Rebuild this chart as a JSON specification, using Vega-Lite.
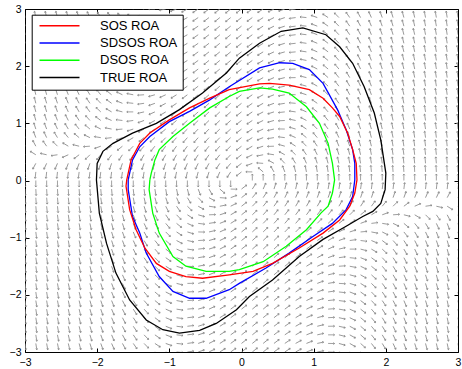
{
"$schema":"https://vega.github.io/schema/vega-lite/v6.json",
"width":433,"height":343,
"autosize":{"type":"none"},
"padding":{"left":25,"top":9,"right":4,"bottom":17},
"config":{
 "view":{"stroke":"#000","strokeWidth":1},
 "font":"Liberation Sans",
 "axis":{"grid":false,"domain":false,"tickColor":"#000","tickSize":-4,"tickWidth":1,"labelFont":"Liberation Sans","labelFontSize":10.5,"labelColor":"#000","labelFlush":false,"title":null},
 "legend":{"orient":"none","legendX":6.7,"legendY":5.7,"padding":4.5,"strokeColor":"#000","strokeWidth":1,"fillColor":"#fff","symbolType":"M-10,0H10","symbolSize":16,"symbolStrokeWidth":1.5,"symbolOffset":16.8,"labelOffset":34,"labelFontSize":13,"labelFont":"Liberation Sans","labelColor":"#000","rowPadding":3.3,"title":null}
},
"resolve":{"axis":{"x":"independent","y":"independent"}},
"layer":[
 {
  "data":{"values":[
{"x":-3,"y":3,"a":260},{"x":-2.85,"y":3,"a":258},{"x":-2.7,"y":3,"a":257},{"x":-2.55,"y":3,"a":255},{"x":-2.4,"y":3,"a":252},{"x":-2.25,"y":3,"a":249},{"x":-2.1,"y":3,"a":245},{"x":-1.95,"y":3,"a":240},{"x":-1.8,"y":3,"a":232},{"x":-1.65,"y":3,"a":223},{"x":-1.5,"y":3,"a":211},{"x":-1.35,"y":3,"a":196},{"x":-1.2,"y":3,"a":182},{"x":-1.05,"y":3,"a":169},{"x":-0.9,"y":3,"a":159},{"x":-0.75,"y":3,"a":151},{"x":-0.6,"y":3,"a":146},{"x":-0.45,"y":3,"a":143},{"x":-0.3,"y":3,"a":141},{"x":-0.15,"y":3,"a":141},{"x":0,"y":3,"a":142},{"x":0.15,"y":3,"a":144},{"x":0.3,"y":3,"a":147},{"x":0.45,"y":3,"a":153},{"x":0.6,"y":3,"a":161},{"x":0.75,"y":3,"a":172},{"x":0.9,"y":3,"a":185},{"x":1.05,"y":3,"a":200},{"x":1.2,"y":3,"a":214},{"x":1.35,"y":3,"a":225},{"x":1.5,"y":3,"a":234},{"x":1.65,"y":3,"a":241},{"x":1.8,"y":3,"a":246},{"x":1.95,"y":3,"a":250},{"x":2.1,"y":3,"a":253},{"x":2.25,"y":3,"a":255},{"x":2.4,"y":3,"a":257},{"x":2.55,"y":3,"a":259},{"x":2.7,"y":3,"a":260},{"x":2.85,"y":3,"a":261},{"x":3,"y":3,"a":262},
{"x":-3,"y":2.85,"a":260},{"x":-2.85,"y":2.85,"a":258},{"x":-2.7,"y":2.85,"a":257},{"x":-2.55,"y":2.85,"a":255},{"x":-2.4,"y":2.85,"a":252},{"x":-2.25,"y":2.85,"a":249},{"x":-2.1,"y":2.85,"a":245},{"x":-1.95,"y":2.85,"a":239},{"x":-1.8,"y":2.85,"a":232},{"x":-1.65,"y":2.85,"a":222},{"x":-1.5,"y":2.85,"a":210},{"x":-1.35,"y":2.85,"a":196},{"x":-1.2,"y":2.85,"a":181},{"x":-1.05,"y":2.85,"a":168},{"x":-0.9,"y":2.85,"a":158},{"x":-0.75,"y":2.85,"a":151},{"x":-0.6,"y":2.85,"a":146},{"x":-0.45,"y":2.85,"a":143},{"x":-0.3,"y":2.85,"a":141},{"x":-0.15,"y":2.85,"a":141},{"x":0,"y":2.85,"a":142},{"x":0.15,"y":2.85,"a":144},{"x":0.3,"y":2.85,"a":147},{"x":0.45,"y":2.85,"a":153},{"x":0.6,"y":2.85,"a":161},{"x":0.75,"y":2.85,"a":172},{"x":0.9,"y":2.85,"a":186},{"x":1.05,"y":2.85,"a":200},{"x":1.2,"y":2.85,"a":214},{"x":1.35,"y":2.85,"a":226},{"x":1.5,"y":2.85,"a":235},{"x":1.65,"y":2.85,"a":241},{"x":1.8,"y":2.85,"a":246},{"x":1.95,"y":2.85,"a":250},{"x":2.1,"y":2.85,"a":253},{"x":2.25,"y":2.85,"a":255},{"x":2.4,"y":2.85,"a":257},{"x":2.55,"y":2.85,"a":259},{"x":2.7,"y":2.85,"a":260},{"x":2.85,"y":2.85,"a":261},{"x":3,"y":2.85,"a":262},
{"x":-3,"y":2.7,"a":260},{"x":-2.85,"y":2.7,"a":258},{"x":-2.7,"y":2.7,"a":257},{"x":-2.55,"y":2.7,"a":255},{"x":-2.4,"y":2.7,"a":252},{"x":-2.25,"y":2.7,"a":249},{"x":-2.1,"y":2.7,"a":244},{"x":-1.95,"y":2.7,"a":239},{"x":-1.8,"y":2.7,"a":231},{"x":-1.65,"y":2.7,"a":221},{"x":-1.5,"y":2.7,"a":209},{"x":-1.35,"y":2.7,"a":194},{"x":-1.2,"y":2.7,"a":180},{"x":-1.05,"y":2.7,"a":167},{"x":-0.9,"y":2.7,"a":158},{"x":-0.75,"y":2.7,"a":150},{"x":-0.6,"y":2.7,"a":146},{"x":-0.45,"y":2.7,"a":143},{"x":-0.3,"y":2.7,"a":141},{"x":-0.15,"y":2.7,"a":141},{"x":0,"y":2.7,"a":142},{"x":0.15,"y":2.7,"a":144},{"x":0.3,"y":2.7,"a":148},{"x":0.45,"y":2.7,"a":153},{"x":0.6,"y":2.7,"a":162},{"x":0.75,"y":2.7,"a":173},{"x":0.9,"y":2.7,"a":186},{"x":1.05,"y":2.7,"a":201},{"x":1.2,"y":2.7,"a":215},{"x":1.35,"y":2.7,"a":226},{"x":1.5,"y":2.7,"a":235},{"x":1.65,"y":2.7,"a":241},{"x":1.8,"y":2.7,"a":247},{"x":1.95,"y":2.7,"a":250},{"x":2.1,"y":2.7,"a":253},{"x":2.25,"y":2.7,"a":255},{"x":2.4,"y":2.7,"a":257},{"x":2.55,"y":2.7,"a":259},{"x":2.7,"y":2.7,"a":260},{"x":2.85,"y":2.7,"a":261},{"x":3,"y":2.7,"a":262},
{"x":-3,"y":2.55,"a":260},{"x":-2.85,"y":2.55,"a":258},{"x":-2.7,"y":2.55,"a":256},{"x":-2.55,"y":2.55,"a":254},{"x":-2.4,"y":2.55,"a":252},{"x":-2.25,"y":2.55,"a":248},{"x":-2.1,"y":2.55,"a":244},{"x":-1.95,"y":2.55,"a":238},{"x":-1.8,"y":2.55,"a":230},{"x":-1.65,"y":2.55,"a":220},{"x":-1.5,"y":2.55,"a":208},{"x":-1.35,"y":2.55,"a":193},{"x":-1.2,"y":2.55,"a":179},{"x":-1.05,"y":2.55,"a":166},{"x":-0.9,"y":2.55,"a":157},{"x":-0.75,"y":2.55,"a":150},{"x":-0.6,"y":2.55,"a":145},{"x":-0.45,"y":2.55,"a":143},{"x":-0.3,"y":2.55,"a":141},{"x":-0.15,"y":2.55,"a":141},{"x":0,"y":2.55,"a":142},{"x":0.15,"y":2.55,"a":144},{"x":0.3,"y":2.55,"a":148},{"x":0.45,"y":2.55,"a":154},{"x":0.6,"y":2.55,"a":162},{"x":0.75,"y":2.55,"a":173},{"x":0.9,"y":2.55,"a":187},{"x":1.05,"y":2.55,"a":202},{"x":1.2,"y":2.55,"a":216},{"x":1.35,"y":2.55,"a":227},{"x":1.5,"y":2.55,"a":235},{"x":1.65,"y":2.55,"a":242},{"x":1.8,"y":2.55,"a":247},{"x":1.95,"y":2.55,"a":250},{"x":2.1,"y":2.55,"a":253},{"x":2.25,"y":2.55,"a":256},{"x":2.4,"y":2.55,"a":257},{"x":2.55,"y":2.55,"a":259},{"x":2.7,"y":2.55,"a":260},{"x":2.85,"y":2.55,"a":261},{"x":3,"y":2.55,"a":262},
{"x":-3,"y":2.4,"a":259},{"x":-2.85,"y":2.4,"a":258},{"x":-2.7,"y":2.4,"a":256},{"x":-2.55,"y":2.4,"a":254},{"x":-2.4,"y":2.4,"a":251},{"x":-2.25,"y":2.4,"a":248},{"x":-2.1,"y":2.4,"a":244},{"x":-1.95,"y":2.4,"a":238},{"x":-1.8,"y":2.4,"a":230},{"x":-1.65,"y":2.4,"a":219},{"x":-1.5,"y":2.4,"a":206},{"x":-1.35,"y":2.4,"a":192},{"x":-1.2,"y":2.4,"a":177},{"x":-1.05,"y":2.4,"a":165},{"x":-0.9,"y":2.4,"a":156},{"x":-0.75,"y":2.4,"a":149},{"x":-0.6,"y":2.4,"a":145},{"x":-0.45,"y":2.4,"a":142},{"x":-0.3,"y":2.4,"a":141},{"x":-0.15,"y":2.4,"a":141},{"x":0,"y":2.4,"a":142},{"x":0.15,"y":2.4,"a":144},{"x":0.3,"y":2.4,"a":148},{"x":0.45,"y":2.4,"a":154},{"x":0.6,"y":2.4,"a":163},{"x":0.75,"y":2.4,"a":174},{"x":0.9,"y":2.4,"a":188},{"x":1.05,"y":2.4,"a":203},{"x":1.2,"y":2.4,"a":217},{"x":1.35,"y":2.4,"a":227},{"x":1.5,"y":2.4,"a":236},{"x":1.65,"y":2.4,"a":242},{"x":1.8,"y":2.4,"a":247},{"x":1.95,"y":2.4,"a":251},{"x":2.1,"y":2.4,"a":253},{"x":2.25,"y":2.4,"a":256},{"x":2.4,"y":2.4,"a":258},{"x":2.55,"y":2.4,"a":259},{"x":2.7,"y":2.4,"a":260},{"x":2.85,"y":2.4,"a":261},{"x":3,"y":2.4,"a":262},
{"x":-3,"y":2.25,"a":259},{"x":-2.85,"y":2.25,"a":258},{"x":-2.7,"y":2.25,"a":256},{"x":-2.55,"y":2.25,"a":254},{"x":-2.4,"y":2.25,"a":251},{"x":-2.25,"y":2.25,"a":248},{"x":-2.1,"y":2.25,"a":243},{"x":-1.95,"y":2.25,"a":237},{"x":-1.8,"y":2.25,"a":229},{"x":-1.65,"y":2.25,"a":218},{"x":-1.5,"y":2.25,"a":205},{"x":-1.35,"y":2.25,"a":190},{"x":-1.2,"y":2.25,"a":176},{"x":-1.05,"y":2.25,"a":164},{"x":-0.9,"y":2.25,"a":155},{"x":-0.75,"y":2.25,"a":149},{"x":-0.6,"y":2.25,"a":144},{"x":-0.45,"y":2.25,"a":142},{"x":-0.3,"y":2.25,"a":141},{"x":-0.15,"y":2.25,"a":141},{"x":0,"y":2.25,"a":142},{"x":0.15,"y":2.25,"a":144},{"x":0.3,"y":2.25,"a":148},{"x":0.45,"y":2.25,"a":155},{"x":0.6,"y":2.25,"a":164},{"x":0.75,"y":2.25,"a":175},{"x":0.9,"y":2.25,"a":189},{"x":1.05,"y":2.25,"a":204},{"x":1.2,"y":2.25,"a":217},{"x":1.35,"y":2.25,"a":228},{"x":1.5,"y":2.25,"a":237},{"x":1.65,"y":2.25,"a":243},{"x":1.8,"y":2.25,"a":247},{"x":1.95,"y":2.25,"a":251},{"x":2.1,"y":2.25,"a":254},{"x":2.25,"y":2.25,"a":256},{"x":2.4,"y":2.25,"a":258},{"x":2.55,"y":2.25,"a":259},{"x":2.7,"y":2.25,"a":260},{"x":2.85,"y":2.25,"a":261},{"x":3,"y":2.25,"a":262},
{"x":-3,"y":2.1,"a":259},{"x":-2.85,"y":2.1,"a":258},{"x":-2.7,"y":2.1,"a":256},{"x":-2.55,"y":2.1,"a":253},{"x":-2.4,"y":2.1,"a":251},{"x":-2.25,"y":2.1,"a":247},{"x":-2.1,"y":2.1,"a":242},{"x":-1.95,"y":2.1,"a":236},{"x":-1.8,"y":2.1,"a":227},{"x":-1.65,"y":2.1,"a":217},{"x":-1.5,"y":2.1,"a":203},{"x":-1.35,"y":2.1,"a":188},{"x":-1.2,"y":2.1,"a":174},{"x":-1.05,"y":2.1,"a":162},{"x":-0.9,"y":2.1,"a":154},{"x":-0.75,"y":2.1,"a":148},{"x":-0.6,"y":2.1,"a":144},{"x":-0.45,"y":2.1,"a":141},{"x":-0.3,"y":2.1,"a":140},{"x":-0.15,"y":2.1,"a":140},{"x":0,"y":2.1,"a":142},{"x":0.15,"y":2.1,"a":144},{"x":0.3,"y":2.1,"a":149},{"x":0.45,"y":2.1,"a":155},{"x":0.6,"y":2.1,"a":164},{"x":0.75,"y":2.1,"a":176},{"x":0.9,"y":2.1,"a":191},{"x":1.05,"y":2.1,"a":205},{"x":1.2,"y":2.1,"a":219},{"x":1.35,"y":2.1,"a":229},{"x":1.5,"y":2.1,"a":237},{"x":1.65,"y":2.1,"a":243},{"x":1.8,"y":2.1,"a":248},{"x":1.95,"y":2.1,"a":251},{"x":2.1,"y":2.1,"a":254},{"x":2.25,"y":2.1,"a":256},{"x":2.4,"y":2.1,"a":258},{"x":2.55,"y":2.1,"a":259},{"x":2.7,"y":2.1,"a":261},{"x":2.85,"y":2.1,"a":261},{"x":3,"y":2.1,"a":262},
{"x":-3,"y":1.95,"a":259},{"x":-2.85,"y":1.95,"a":257},{"x":-2.7,"y":1.95,"a":256},{"x":-2.55,"y":1.95,"a":253},{"x":-2.4,"y":1.95,"a":250},{"x":-2.25,"y":1.95,"a":247},{"x":-2.1,"y":1.95,"a":242},{"x":-1.95,"y":1.95,"a":235},{"x":-1.8,"y":1.95,"a":226},{"x":-1.65,"y":1.95,"a":215},{"x":-1.5,"y":1.95,"a":201},{"x":-1.35,"y":1.95,"a":186},{"x":-1.2,"y":1.95,"a":172},{"x":-1.05,"y":1.95,"a":161},{"x":-0.9,"y":1.95,"a":153},{"x":-0.75,"y":1.95,"a":147},{"x":-0.6,"y":1.95,"a":143},{"x":-0.45,"y":1.95,"a":141},{"x":-0.3,"y":1.95,"a":140},{"x":-0.15,"y":1.95,"a":140},{"x":0,"y":1.95,"a":142},{"x":0.15,"y":1.95,"a":145},{"x":0.3,"y":1.95,"a":149},{"x":0.45,"y":1.95,"a":156},{"x":0.6,"y":1.95,"a":165},{"x":0.75,"y":1.95,"a":177},{"x":0.9,"y":1.95,"a":192},{"x":1.05,"y":1.95,"a":207},{"x":1.2,"y":1.95,"a":220},{"x":1.35,"y":1.95,"a":230},{"x":1.5,"y":1.95,"a":238},{"x":1.65,"y":1.95,"a":244},{"x":1.8,"y":1.95,"a":248},{"x":1.95,"y":1.95,"a":252},{"x":2.1,"y":1.95,"a":254},{"x":2.25,"y":1.95,"a":256},{"x":2.4,"y":1.95,"a":258},{"x":2.55,"y":1.95,"a":260},{"x":2.7,"y":1.95,"a":261},{"x":2.85,"y":1.95,"a":262},{"x":3,"y":1.95,"a":262},
{"x":-3,"y":1.8,"a":259},{"x":-2.85,"y":1.8,"a":257},{"x":-2.7,"y":1.8,"a":255},{"x":-2.55,"y":1.8,"a":253},{"x":-2.4,"y":1.8,"a":250},{"x":-2.25,"y":1.8,"a":246},{"x":-2.1,"y":1.8,"a":241},{"x":-1.95,"y":1.8,"a":234},{"x":-1.8,"y":1.8,"a":224},{"x":-1.65,"y":1.8,"a":212},{"x":-1.5,"y":1.8,"a":198},{"x":-1.35,"y":1.8,"a":183},{"x":-1.2,"y":1.8,"a":170},{"x":-1.05,"y":1.8,"a":159},{"x":-0.9,"y":1.8,"a":151},{"x":-0.75,"y":1.8,"a":146},{"x":-0.6,"y":1.8,"a":143},{"x":-0.45,"y":1.8,"a":140},{"x":-0.3,"y":1.8,"a":140},{"x":-0.15,"y":1.8,"a":140},{"x":0,"y":1.8,"a":142},{"x":0.15,"y":1.8,"a":145},{"x":0.3,"y":1.8,"a":150},{"x":0.45,"y":1.8,"a":156},{"x":0.6,"y":1.8,"a":166},{"x":0.75,"y":1.8,"a":179},{"x":0.9,"y":1.8,"a":194},{"x":1.05,"y":1.8,"a":208},{"x":1.2,"y":1.8,"a":221},{"x":1.35,"y":1.8,"a":231},{"x":1.5,"y":1.8,"a":239},{"x":1.65,"y":1.8,"a":244},{"x":1.8,"y":1.8,"a":249},{"x":1.95,"y":1.8,"a":252},{"x":2.1,"y":1.8,"a":255},{"x":2.25,"y":1.8,"a":257},{"x":2.4,"y":1.8,"a":258},{"x":2.55,"y":1.8,"a":260},{"x":2.7,"y":1.8,"a":261},{"x":2.85,"y":1.8,"a":262},{"x":3,"y":1.8,"a":263},
{"x":-3,"y":1.65,"a":258},{"x":-2.85,"y":1.65,"a":257},{"x":-2.7,"y":1.65,"a":255},{"x":-2.55,"y":1.65,"a":252},{"x":-2.4,"y":1.65,"a":249},{"x":-2.25,"y":1.65,"a":245},{"x":-2.1,"y":1.65,"a":239},{"x":-1.95,"y":1.65,"a":232},{"x":-1.8,"y":1.65,"a":222},{"x":-1.65,"y":1.65,"a":210},{"x":-1.5,"y":1.65,"a":195},{"x":-1.35,"y":1.65,"a":180},{"x":-1.2,"y":1.65,"a":167},{"x":-1.05,"y":1.65,"a":157},{"x":-0.9,"y":1.65,"a":150},{"x":-0.75,"y":1.65,"a":145},{"x":-0.6,"y":1.65,"a":142},{"x":-0.45,"y":1.65,"a":140},{"x":-0.3,"y":1.65,"a":139},{"x":-0.15,"y":1.65,"a":140},{"x":0,"y":1.65,"a":142},{"x":0.15,"y":1.65,"a":145},{"x":0.3,"y":1.65,"a":150},{"x":0.45,"y":1.65,"a":157},{"x":0.6,"y":1.65,"a":168},{"x":0.75,"y":1.65,"a":180},{"x":0.9,"y":1.65,"a":196},{"x":1.05,"y":1.65,"a":210},{"x":1.2,"y":1.65,"a":223},{"x":1.35,"y":1.65,"a":232},{"x":1.5,"y":1.65,"a":240},{"x":1.65,"y":1.65,"a":245},{"x":1.8,"y":1.65,"a":249},{"x":1.95,"y":1.65,"a":252},{"x":2.1,"y":1.65,"a":255},{"x":2.25,"y":1.65,"a":257},{"x":2.4,"y":1.65,"a":258},{"x":2.55,"y":1.65,"a":260},{"x":2.7,"y":1.65,"a":261},{"x":2.85,"y":1.65,"a":262},{"x":3,"y":1.65,"a":263},
{"x":-3,"y":1.5,"a":258},{"x":-2.85,"y":1.5,"a":256},{"x":-2.7,"y":1.5,"a":254},{"x":-2.55,"y":1.5,"a":252},{"x":-2.4,"y":1.5,"a":248},{"x":-2.25,"y":1.5,"a":244},{"x":-2.1,"y":1.5,"a":238},{"x":-1.95,"y":1.5,"a":230},{"x":-1.8,"y":1.5,"a":219},{"x":-1.65,"y":1.5,"a":206},{"x":-1.5,"y":1.5,"a":191},{"x":-1.35,"y":1.5,"a":176},{"x":-1.2,"y":1.5,"a":164},{"x":-1.05,"y":1.5,"a":155},{"x":-0.9,"y":1.5,"a":148},{"x":-0.75,"y":1.5,"a":143},{"x":-0.6,"y":1.5,"a":141},{"x":-0.45,"y":1.5,"a":139},{"x":-0.3,"y":1.5,"a":139},{"x":-0.15,"y":1.5,"a":140},{"x":0,"y":1.5,"a":142},{"x":0.15,"y":1.5,"a":145},{"x":0.3,"y":1.5,"a":151},{"x":0.45,"y":1.5,"a":158},{"x":0.6,"y":1.5,"a":169},{"x":0.75,"y":1.5,"a":183},{"x":0.9,"y":1.5,"a":198},{"x":1.05,"y":1.5,"a":212},{"x":1.2,"y":1.5,"a":224},{"x":1.35,"y":1.5,"a":234},{"x":1.5,"y":1.5,"a":241},{"x":1.65,"y":1.5,"a":246},{"x":1.8,"y":1.5,"a":250},{"x":1.95,"y":1.5,"a":253},{"x":2.1,"y":1.5,"a":255},{"x":2.25,"y":1.5,"a":257},{"x":2.4,"y":1.5,"a":259},{"x":2.55,"y":1.5,"a":260},{"x":2.7,"y":1.5,"a":261},{"x":2.85,"y":1.5,"a":262},{"x":3,"y":1.5,"a":263},
{"x":-3,"y":1.35,"a":258},{"x":-2.85,"y":1.35,"a":256},{"x":-2.7,"y":1.35,"a":253},{"x":-2.55,"y":1.35,"a":251},{"x":-2.4,"y":1.35,"a":247},{"x":-2.25,"y":1.35,"a":242},{"x":-2.1,"y":1.35,"a":236},{"x":-1.95,"y":1.35,"a":227},{"x":-1.8,"y":1.35,"a":216},{"x":-1.65,"y":1.35,"a":202},{"x":-1.5,"y":1.35,"a":186},{"x":-1.35,"y":1.35,"a":172},{"x":-1.2,"y":1.35,"a":160},{"x":-1.05,"y":1.35,"a":152},{"x":-0.9,"y":1.35,"a":146},{"x":-0.75,"y":1.35,"a":142},{"x":-0.6,"y":1.35,"a":139},{"x":-0.45,"y":1.35,"a":138},{"x":-0.3,"y":1.35,"a":138},{"x":-0.15,"y":1.35,"a":139},{"x":0,"y":1.35,"a":142},{"x":0.15,"y":1.35,"a":145},{"x":0.3,"y":1.35,"a":151},{"x":0.45,"y":1.35,"a":160},{"x":0.6,"y":1.35,"a":171},{"x":0.75,"y":1.35,"a":185},{"x":0.9,"y":1.35,"a":201},{"x":1.05,"y":1.35,"a":215},{"x":1.2,"y":1.35,"a":226},{"x":1.35,"y":1.35,"a":235},{"x":1.5,"y":1.35,"a":242},{"x":1.65,"y":1.35,"a":247},{"x":1.8,"y":1.35,"a":250},{"x":1.95,"y":1.35,"a":253},{"x":2.1,"y":1.35,"a":256},{"x":2.25,"y":1.35,"a":258},{"x":2.4,"y":1.35,"a":259},{"x":2.55,"y":1.35,"a":260},{"x":2.7,"y":1.35,"a":261},{"x":2.85,"y":1.35,"a":262},{"x":3,"y":1.35,"a":263},
{"x":-3,"y":1.2,"a":257},{"x":-2.85,"y":1.2,"a":255},{"x":-2.7,"y":1.2,"a":253},{"x":-2.55,"y":1.2,"a":250},{"x":-2.4,"y":1.2,"a":245},{"x":-2.25,"y":1.2,"a":240},{"x":-2.1,"y":1.2,"a":233},{"x":-1.95,"y":1.2,"a":223},{"x":-1.8,"y":1.2,"a":210},{"x":-1.65,"y":1.2,"a":195},{"x":-1.5,"y":1.2,"a":180},{"x":-1.35,"y":1.2,"a":167},{"x":-1.2,"y":1.2,"a":156},{"x":-1.05,"y":1.2,"a":149},{"x":-0.9,"y":1.2,"a":143},{"x":-0.75,"y":1.2,"a":140},{"x":-0.6,"y":1.2,"a":138},{"x":-0.45,"y":1.2,"a":137},{"x":-0.3,"y":1.2,"a":137},{"x":-0.15,"y":1.2,"a":139},{"x":0,"y":1.2,"a":142},{"x":0.15,"y":1.2,"a":146},{"x":0.3,"y":1.2,"a":152},{"x":0.45,"y":1.2,"a":162},{"x":0.6,"y":1.2,"a":174},{"x":0.75,"y":1.2,"a":188},{"x":0.9,"y":1.2,"a":204},{"x":1.05,"y":1.2,"a":218},{"x":1.2,"y":1.2,"a":229},{"x":1.35,"y":1.2,"a":237},{"x":1.5,"y":1.2,"a":243},{"x":1.65,"y":1.2,"a":248},{"x":1.8,"y":1.2,"a":251},{"x":1.95,"y":1.2,"a":254},{"x":2.1,"y":1.2,"a":256},{"x":2.25,"y":1.2,"a":258},{"x":2.4,"y":1.2,"a":259},{"x":2.55,"y":1.2,"a":261},{"x":2.7,"y":1.2,"a":262},{"x":2.85,"y":1.2,"a":262},{"x":3,"y":1.2,"a":263},
{"x":-3,"y":1.05,"a":256},{"x":-2.85,"y":1.05,"a":254},{"x":-2.7,"y":1.05,"a":251},{"x":-2.55,"y":1.05,"a":248},{"x":-2.4,"y":1.05,"a":243},{"x":-2.25,"y":1.05,"a":237},{"x":-2.1,"y":1.05,"a":228},{"x":-1.95,"y":1.05,"a":217},{"x":-1.8,"y":1.05,"a":203},{"x":-1.65,"y":1.05,"a":187},{"x":-1.5,"y":1.05,"a":172},{"x":-1.35,"y":1.05,"a":160},{"x":-1.2,"y":1.05,"a":151},{"x":-1.05,"y":1.05,"a":145},{"x":-0.9,"y":1.05,"a":140},{"x":-0.75,"y":1.05,"a":138},{"x":-0.6,"y":1.05,"a":136},{"x":-0.45,"y":1.05,"a":136},{"x":-0.3,"y":1.05,"a":137},{"x":-0.15,"y":1.05,"a":138},{"x":0,"y":1.05,"a":142},{"x":0.15,"y":1.05,"a":146},{"x":0.3,"y":1.05,"a":154},{"x":0.45,"y":1.05,"a":164},{"x":0.6,"y":1.05,"a":177},{"x":0.75,"y":1.05,"a":192},{"x":0.9,"y":1.05,"a":208},{"x":1.05,"y":1.05,"a":221},{"x":1.2,"y":1.05,"a":231},{"x":1.35,"y":1.05,"a":239},{"x":1.5,"y":1.05,"a":245},{"x":1.65,"y":1.05,"a":249},{"x":1.8,"y":1.05,"a":252},{"x":1.95,"y":1.05,"a":255},{"x":2.1,"y":1.05,"a":257},{"x":2.25,"y":1.05,"a":258},{"x":2.4,"y":1.05,"a":260},{"x":2.55,"y":1.05,"a":261},{"x":2.7,"y":1.05,"a":262},{"x":2.85,"y":1.05,"a":263},{"x":3,"y":1.05,"a":263},
{"x":-3,"y":0.9,"a":255},{"x":-2.85,"y":0.9,"a":252},{"x":-2.7,"y":0.9,"a":249},{"x":-2.55,"y":0.9,"a":245},{"x":-2.4,"y":0.9,"a":239},{"x":-2.25,"y":0.9,"a":231},{"x":-2.1,"y":0.9,"a":220},{"x":-1.95,"y":0.9,"a":207},{"x":-1.8,"y":0.9,"a":191},{"x":-1.65,"y":0.9,"a":175},{"x":-1.5,"y":0.9,"a":162},{"x":-1.35,"y":0.9,"a":152},{"x":-1.2,"y":0.9,"a":145},{"x":-1.05,"y":0.9,"a":140},{"x":-0.9,"y":0.9,"a":137},{"x":-0.75,"y":0.9,"a":135},{"x":-0.6,"y":0.9,"a":134},{"x":-0.45,"y":0.9,"a":134},{"x":-0.3,"y":0.9,"a":136},{"x":-0.15,"y":0.9,"a":138},{"x":0,"y":0.9,"a":142},{"x":0.15,"y":0.9,"a":147},{"x":0.3,"y":0.9,"a":155},{"x":0.45,"y":0.9,"a":167},{"x":0.6,"y":0.9,"a":181},{"x":0.75,"y":0.9,"a":197},{"x":0.9,"y":0.9,"a":213},{"x":1.05,"y":0.9,"a":225},{"x":1.2,"y":0.9,"a":234},{"x":1.35,"y":0.9,"a":241},{"x":1.5,"y":0.9,"a":247},{"x":1.65,"y":0.9,"a":250},{"x":1.8,"y":0.9,"a":253},{"x":1.95,"y":0.9,"a":256},{"x":2.1,"y":0.9,"a":258},{"x":2.25,"y":0.9,"a":259},{"x":2.4,"y":0.9,"a":260},{"x":2.55,"y":0.9,"a":261},{"x":2.7,"y":0.9,"a":262},{"x":2.85,"y":0.9,"a":263},{"x":3,"y":0.9,"a":264},
{"x":-3,"y":0.75,"a":252},{"x":-2.85,"y":0.75,"a":249},{"x":-2.7,"y":0.75,"a":245},{"x":-2.55,"y":0.75,"a":239},{"x":-2.4,"y":0.75,"a":231},{"x":-2.25,"y":0.75,"a":220},{"x":-2.1,"y":0.75,"a":206},{"x":-1.95,"y":0.75,"a":189},{"x":-1.8,"y":0.75,"a":173},{"x":-1.65,"y":0.75,"a":159},{"x":-1.5,"y":0.75,"a":149},{"x":-1.35,"y":0.75,"a":142},{"x":-1.2,"y":0.75,"a":137},{"x":-1.05,"y":0.75,"a":134},{"x":-0.9,"y":0.75,"a":132},{"x":-0.75,"y":0.75,"a":131},{"x":-0.6,"y":0.75,"a":131},{"x":-0.45,"y":0.75,"a":132},{"x":-0.3,"y":0.75,"a":134},{"x":-0.15,"y":0.75,"a":137},{"x":0,"y":0.75,"a":142},{"x":0.15,"y":0.75,"a":148},{"x":0.3,"y":0.75,"a":158},{"x":0.45,"y":0.75,"a":171},{"x":0.6,"y":0.75,"a":187},{"x":0.75,"y":0.75,"a":204},{"x":0.9,"y":0.75,"a":219},{"x":1.05,"y":0.75,"a":230},{"x":1.2,"y":0.75,"a":238},{"x":1.35,"y":0.75,"a":244},{"x":1.5,"y":0.75,"a":249},{"x":1.65,"y":0.75,"a":252},{"x":1.8,"y":0.75,"a":255},{"x":1.95,"y":0.75,"a":257},{"x":2.1,"y":0.75,"a":258},{"x":2.25,"y":0.75,"a":260},{"x":2.4,"y":0.75,"a":261},{"x":2.55,"y":0.75,"a":262},{"x":2.7,"y":0.75,"a":263},{"x":2.85,"y":0.75,"a":263},{"x":3,"y":0.75,"a":264},
{"x":-3,"y":0.6,"a":247},{"x":-2.85,"y":0.6,"a":242},{"x":-2.7,"y":0.6,"a":235},{"x":-2.55,"y":0.6,"a":225},{"x":-2.4,"y":0.6,"a":211},{"x":-2.25,"y":0.6,"a":194},{"x":-2.1,"y":0.6,"a":176},{"x":-1.95,"y":0.6,"a":160},{"x":-1.8,"y":0.6,"a":149},{"x":-1.65,"y":0.6,"a":141},{"x":-1.5,"y":0.6,"a":135},{"x":-1.35,"y":0.6,"a":132},{"x":-1.2,"y":0.6,"a":129},{"x":-1.05,"y":0.6,"a":127},{"x":-0.9,"y":0.6,"a":127},{"x":-0.75,"y":0.6,"a":127},{"x":-0.6,"y":0.6,"a":128},{"x":-0.45,"y":0.6,"a":129},{"x":-0.3,"y":0.6,"a":132},{"x":-0.15,"y":0.6,"a":136},{"x":0,"y":0.6,"a":142},{"x":0.15,"y":0.6,"a":150},{"x":0.3,"y":0.6,"a":162},{"x":0.45,"y":0.6,"a":178},{"x":0.6,"y":0.6,"a":196},{"x":0.75,"y":0.6,"a":213},{"x":0.9,"y":0.6,"a":226},{"x":1.05,"y":0.6,"a":236},{"x":1.2,"y":0.6,"a":243},{"x":1.35,"y":0.6,"a":248},{"x":1.5,"y":0.6,"a":251},{"x":1.65,"y":0.6,"a":254},{"x":1.8,"y":0.6,"a":256},{"x":1.95,"y":0.6,"a":258},{"x":2.1,"y":0.6,"a":260},{"x":2.25,"y":0.6,"a":261},{"x":2.4,"y":0.6,"a":262},{"x":2.55,"y":0.6,"a":263},{"x":2.7,"y":0.6,"a":263},{"x":2.85,"y":0.6,"a":264},{"x":3,"y":0.6,"a":264},
{"x":-3,"y":0.45,"a":227},{"x":-2.85,"y":0.45,"a":212},{"x":-2.7,"y":0.45,"a":193},{"x":-2.55,"y":0.45,"a":172},{"x":-2.4,"y":0.45,"a":156},{"x":-2.25,"y":0.45,"a":143},{"x":-2.1,"y":0.45,"a":135},{"x":-1.95,"y":0.45,"a":130},{"x":-1.8,"y":0.45,"a":126},{"x":-1.65,"y":0.45,"a":123},{"x":-1.5,"y":0.45,"a":121},{"x":-1.35,"y":0.45,"a":120},{"x":-1.2,"y":0.45,"a":120},{"x":-1.05,"y":0.45,"a":120},{"x":-0.9,"y":0.45,"a":120},{"x":-0.75,"y":0.45,"a":121},{"x":-0.6,"y":0.45,"a":123},{"x":-0.45,"y":0.45,"a":125},{"x":-0.3,"y":0.45,"a":129},{"x":-0.15,"y":0.45,"a":134},{"x":0,"y":0.45,"a":142},{"x":0.15,"y":0.45,"a":153},{"x":0.3,"y":0.45,"a":169},{"x":0.45,"y":0.45,"a":189},{"x":0.6,"y":0.45,"a":209},{"x":0.75,"y":0.45,"a":224},{"x":0.9,"y":0.45,"a":235},{"x":1.05,"y":0.45,"a":243},{"x":1.2,"y":0.45,"a":248},{"x":1.35,"y":0.45,"a":252},{"x":1.5,"y":0.45,"a":255},{"x":1.65,"y":0.45,"a":257},{"x":1.8,"y":0.45,"a":259},{"x":1.95,"y":0.45,"a":260},{"x":2.1,"y":0.45,"a":261},{"x":2.25,"y":0.45,"a":262},{"x":2.4,"y":0.45,"a":263},{"x":2.55,"y":0.45,"a":264},{"x":2.7,"y":0.45,"a":264},{"x":2.85,"y":0.45,"a":265},{"x":3,"y":0.45,"a":265},
{"x":-3,"y":0.3,"a":122},{"x":-2.85,"y":0.3,"a":118},{"x":-2.7,"y":0.3,"a":115},{"x":-2.55,"y":0.3,"a":113},{"x":-2.4,"y":0.3,"a":111},{"x":-2.25,"y":0.3,"a":110},{"x":-2.1,"y":0.3,"a":109},{"x":-1.95,"y":0.3,"a":109},{"x":-1.8,"y":0.3,"a":109},{"x":-1.65,"y":0.3,"a":109},{"x":-1.5,"y":0.3,"a":109},{"x":-1.35,"y":0.3,"a":109},{"x":-1.2,"y":0.3,"a":110},{"x":-1.05,"y":0.3,"a":110},{"x":-0.9,"y":0.3,"a":112},{"x":-0.75,"y":0.3,"a":113},{"x":-0.6,"y":0.3,"a":116},{"x":-0.45,"y":0.3,"a":119},{"x":-0.3,"y":0.3,"a":124},{"x":-0.15,"y":0.3,"a":130},{"x":0,"y":0.3,"a":142},{"x":0.15,"y":0.3,"a":159},{"x":0.3,"y":0.3,"a":184},{"x":0.45,"y":0.3,"a":209},{"x":0.6,"y":0.3,"a":227},{"x":0.75,"y":0.3,"a":238},{"x":0.9,"y":0.3,"a":246},{"x":1.05,"y":0.3,"a":251},{"x":1.2,"y":0.3,"a":254},{"x":1.35,"y":0.3,"a":257},{"x":1.5,"y":0.3,"a":259},{"x":1.65,"y":0.3,"a":260},{"x":1.8,"y":0.3,"a":261},{"x":1.95,"y":0.3,"a":262},{"x":2.1,"y":0.3,"a":263},{"x":2.25,"y":0.3,"a":264},{"x":2.4,"y":0.3,"a":264},{"x":2.55,"y":0.3,"a":265},{"x":2.7,"y":0.3,"a":265},{"x":2.85,"y":0.3,"a":266},{"x":3,"y":0.3,"a":266},
{"x":-3,"y":0.15,"a":96},{"x":-2.85,"y":0.15,"a":96},{"x":-2.7,"y":0.15,"a":96},{"x":-2.55,"y":0.15,"a":96},{"x":-2.4,"y":0.15,"a":96},{"x":-2.25,"y":0.15,"a":97},{"x":-2.1,"y":0.15,"a":97},{"x":-1.95,"y":0.15,"a":97},{"x":-1.8,"y":0.15,"a":97},{"x":-1.65,"y":0.15,"a":98},{"x":-1.5,"y":0.15,"a":98},{"x":-1.35,"y":0.15,"a":99},{"x":-1.2,"y":0.15,"a":100},{"x":-1.05,"y":0.15,"a":100},{"x":-0.9,"y":0.15,"a":102},{"x":-0.75,"y":0.15,"a":103},{"x":-0.6,"y":0.15,"a":105},{"x":-0.45,"y":0.15,"a":108},{"x":-0.3,"y":0.15,"a":114},{"x":-0.15,"y":0.15,"a":123},{"x":0,"y":0.15,"a":142},{"x":0.15,"y":0.15,"a":181},{"x":0.3,"y":0.15,"a":221},{"x":0.45,"y":0.15,"a":240},{"x":0.6,"y":0.15,"a":249},{"x":0.75,"y":0.15,"a":255},{"x":0.9,"y":0.15,"a":258},{"x":1.05,"y":0.15,"a":260},{"x":1.2,"y":0.15,"a":261},{"x":1.35,"y":0.15,"a":263},{"x":1.5,"y":0.15,"a":264},{"x":1.65,"y":0.15,"a":264},{"x":1.8,"y":0.15,"a":265},{"x":1.95,"y":0.15,"a":265},{"x":2.1,"y":0.15,"a":266},{"x":2.25,"y":0.15,"a":266},{"x":2.4,"y":0.15,"a":267},{"x":2.55,"y":0.15,"a":267},{"x":2.7,"y":0.15,"a":267},{"x":2.85,"y":0.15,"a":267},{"x":3,"y":0.15,"a":267},
{"x":-3,"y":0,"a":90},{"x":-2.85,"y":0,"a":90},{"x":-2.7,"y":0,"a":90},{"x":-2.55,"y":0,"a":90},{"x":-2.4,"y":0,"a":90},{"x":-2.25,"y":0,"a":90},{"x":-2.1,"y":0,"a":90},{"x":-1.95,"y":0,"a":90},{"x":-1.8,"y":0,"a":90},{"x":-1.65,"y":0,"a":90},{"x":-1.5,"y":0,"a":90},{"x":-1.35,"y":0,"a":90},{"x":-1.2,"y":0,"a":90},{"x":-1.05,"y":0,"a":90},{"x":-0.9,"y":0,"a":90},{"x":-0.75,"y":0,"a":90},{"x":-0.6,"y":0,"a":90},{"x":-0.45,"y":0,"a":90},{"x":-0.3,"y":0,"a":90},{"x":-0.15,"y":0,"a":90},{"x":0.15,"y":0,"a":270},{"x":0.3,"y":0,"a":270},{"x":0.45,"y":0,"a":270},{"x":0.6,"y":0,"a":270},{"x":0.75,"y":0,"a":270},{"x":0.9,"y":0,"a":270},{"x":1.05,"y":0,"a":270},{"x":1.2,"y":0,"a":270},{"x":1.35,"y":0,"a":270},{"x":1.5,"y":0,"a":270},{"x":1.65,"y":0,"a":270},{"x":1.8,"y":0,"a":270},{"x":1.95,"y":0,"a":270},{"x":2.1,"y":0,"a":270},{"x":2.25,"y":0,"a":270},{"x":2.4,"y":0,"a":270},{"x":2.55,"y":0,"a":270},{"x":2.7,"y":0,"a":270},{"x":2.85,"y":0,"a":270},{"x":3,"y":0,"a":270},
{"x":-3,"y":-0.15,"a":87},{"x":-2.85,"y":-0.15,"a":87},{"x":-2.7,"y":-0.15,"a":87},{"x":-2.55,"y":-0.15,"a":87},{"x":-2.4,"y":-0.15,"a":87},{"x":-2.25,"y":-0.15,"a":86},{"x":-2.1,"y":-0.15,"a":86},{"x":-1.95,"y":-0.15,"a":85},{"x":-1.8,"y":-0.15,"a":85},{"x":-1.65,"y":-0.15,"a":84},{"x":-1.5,"y":-0.15,"a":84},{"x":-1.35,"y":-0.15,"a":83},{"x":-1.2,"y":-0.15,"a":81},{"x":-1.05,"y":-0.15,"a":80},{"x":-0.9,"y":-0.15,"a":78},{"x":-0.75,"y":-0.15,"a":75},{"x":-0.6,"y":-0.15,"a":69},{"x":-0.45,"y":-0.15,"a":60},{"x":-0.3,"y":-0.15,"a":41},{"x":-0.15,"y":-0.15,"a":1},{"x":0,"y":-0.15,"a":-38},{"x":0.15,"y":-0.15,"a":-57},{"x":0.3,"y":-0.15,"a":-66},{"x":0.45,"y":-0.15,"a":-72},{"x":0.6,"y":-0.15,"a":-75},{"x":0.75,"y":-0.15,"a":-77},{"x":0.9,"y":-0.15,"a":-78},{"x":1.05,"y":-0.15,"a":-80},{"x":1.2,"y":-0.15,"a":-80},{"x":1.35,"y":-0.15,"a":-81},{"x":1.5,"y":-0.15,"a":-82},{"x":1.65,"y":-0.15,"a":-82},{"x":1.8,"y":-0.15,"a":-83},{"x":1.95,"y":-0.15,"a":-83},{"x":2.1,"y":-0.15,"a":-83},{"x":2.25,"y":-0.15,"a":-83},{"x":2.4,"y":-0.15,"a":-84},{"x":2.55,"y":-0.15,"a":-84},{"x":2.7,"y":-0.15,"a":-84},{"x":2.85,"y":-0.15,"a":-84},{"x":3,"y":-0.15,"a":-84},
{"x":-3,"y":-0.3,"a":86},{"x":-2.85,"y":-0.3,"a":86},{"x":-2.7,"y":-0.3,"a":85},{"x":-2.55,"y":-0.3,"a":85},{"x":-2.4,"y":-0.3,"a":84},{"x":-2.25,"y":-0.3,"a":84},{"x":-2.1,"y":-0.3,"a":83},{"x":-1.95,"y":-0.3,"a":82},{"x":-1.8,"y":-0.3,"a":81},{"x":-1.65,"y":-0.3,"a":80},{"x":-1.5,"y":-0.3,"a":79},{"x":-1.35,"y":-0.3,"a":77},{"x":-1.2,"y":-0.3,"a":74},{"x":-1.05,"y":-0.3,"a":71},{"x":-0.9,"y":-0.3,"a":66},{"x":-0.75,"y":-0.3,"a":58},{"x":-0.6,"y":-0.3,"a":47},{"x":-0.45,"y":-0.3,"a":29},{"x":-0.3,"y":-0.3,"a":4},{"x":-0.15,"y":-0.3,"a":-21},{"x":0,"y":-0.3,"a":-38},{"x":0.15,"y":-0.3,"a":-50},{"x":0.3,"y":-0.3,"a":-56},{"x":0.45,"y":-0.3,"a":-61},{"x":0.6,"y":-0.3,"a":-64},{"x":0.75,"y":-0.3,"a":-67},{"x":0.9,"y":-0.3,"a":-68},{"x":1.05,"y":-0.3,"a":-70},{"x":1.2,"y":-0.3,"a":-70},{"x":1.35,"y":-0.3,"a":-71},{"x":1.5,"y":-0.3,"a":-71},{"x":1.65,"y":-0.3,"a":-71},{"x":1.8,"y":-0.3,"a":-71},{"x":1.95,"y":-0.3,"a":-71},{"x":2.1,"y":-0.3,"a":-71},{"x":2.25,"y":-0.3,"a":-70},{"x":2.4,"y":-0.3,"a":-69},{"x":2.55,"y":-0.3,"a":-67},{"x":2.7,"y":-0.3,"a":-65},{"x":2.85,"y":-0.3,"a":-62},{"x":3,"y":-0.3,"a":-58},
{"x":-3,"y":-0.45,"a":85},{"x":-2.85,"y":-0.45,"a":85},{"x":-2.7,"y":-0.45,"a":84},{"x":-2.55,"y":-0.45,"a":84},{"x":-2.4,"y":-0.45,"a":83},{"x":-2.25,"y":-0.45,"a":82},{"x":-2.1,"y":-0.45,"a":81},{"x":-1.95,"y":-0.45,"a":80},{"x":-1.8,"y":-0.45,"a":79},{"x":-1.65,"y":-0.45,"a":77},{"x":-1.5,"y":-0.45,"a":75},{"x":-1.35,"y":-0.45,"a":72},{"x":-1.2,"y":-0.45,"a":68},{"x":-1.05,"y":-0.45,"a":63},{"x":-0.9,"y":-0.45,"a":55},{"x":-0.75,"y":-0.45,"a":44},{"x":-0.6,"y":-0.45,"a":29},{"x":-0.45,"y":-0.45,"a":9},{"x":-0.3,"y":-0.45,"a":-11},{"x":-0.15,"y":-0.45,"a":-27},{"x":0,"y":-0.45,"a":-38},{"x":0.15,"y":-0.45,"a":-46},{"x":0.3,"y":-0.45,"a":-51},{"x":0.45,"y":-0.45,"a":-55},{"x":0.6,"y":-0.45,"a":-57},{"x":0.75,"y":-0.45,"a":-59},{"x":0.9,"y":-0.45,"a":-60},{"x":1.05,"y":-0.45,"a":-60},{"x":1.2,"y":-0.45,"a":-60},{"x":1.35,"y":-0.45,"a":-60},{"x":1.5,"y":-0.45,"a":-59},{"x":1.65,"y":-0.45,"a":-57},{"x":1.8,"y":-0.45,"a":-54},{"x":1.95,"y":-0.45,"a":-50},{"x":2.1,"y":-0.45,"a":-45},{"x":2.25,"y":-0.45,"a":-37},{"x":2.4,"y":-0.45,"a":-24},{"x":2.55,"y":-0.45,"a":-8},{"x":2.7,"y":-0.45,"a":13},{"x":2.85,"y":-0.45,"a":32},{"x":3,"y":-0.45,"a":47},
{"x":-3,"y":-0.6,"a":84},{"x":-2.85,"y":-0.6,"a":84},{"x":-2.7,"y":-0.6,"a":83},{"x":-2.55,"y":-0.6,"a":83},{"x":-2.4,"y":-0.6,"a":82},{"x":-2.25,"y":-0.6,"a":81},{"x":-2.1,"y":-0.6,"a":80},{"x":-1.95,"y":-0.6,"a":78},{"x":-1.8,"y":-0.6,"a":76},{"x":-1.65,"y":-0.6,"a":74},{"x":-1.5,"y":-0.6,"a":71},{"x":-1.35,"y":-0.6,"a":68},{"x":-1.2,"y":-0.6,"a":63},{"x":-1.05,"y":-0.6,"a":56},{"x":-0.9,"y":-0.6,"a":46},{"x":-0.75,"y":-0.6,"a":33},{"x":-0.6,"y":-0.6,"a":16},{"x":-0.45,"y":-0.6,"a":-2},{"x":-0.3,"y":-0.6,"a":-18},{"x":-0.15,"y":-0.6,"a":-30},{"x":0,"y":-0.6,"a":-38},{"x":0.15,"y":-0.6,"a":-44},{"x":0.3,"y":-0.6,"a":-48},{"x":0.45,"y":-0.6,"a":-51},{"x":0.6,"y":-0.6,"a":-52},{"x":0.75,"y":-0.6,"a":-53},{"x":0.9,"y":-0.6,"a":-53},{"x":1.05,"y":-0.6,"a":-53},{"x":1.2,"y":-0.6,"a":-51},{"x":1.35,"y":-0.6,"a":-48},{"x":1.5,"y":-0.6,"a":-45},{"x":1.65,"y":-0.6,"a":-39},{"x":1.8,"y":-0.6,"a":-31},{"x":1.95,"y":-0.6,"a":-20},{"x":2.1,"y":-0.6,"a":-4},{"x":2.25,"y":-0.6,"a":14},{"x":2.4,"y":-0.6,"a":31},{"x":2.55,"y":-0.6,"a":45},{"x":2.7,"y":-0.6,"a":55},{"x":2.85,"y":-0.6,"a":62},{"x":3,"y":-0.6,"a":67},
{"x":-3,"y":-0.75,"a":84},{"x":-2.85,"y":-0.75,"a":83},{"x":-2.7,"y":-0.75,"a":83},{"x":-2.55,"y":-0.75,"a":82},{"x":-2.4,"y":-0.75,"a":81},{"x":-2.25,"y":-0.75,"a":80},{"x":-2.1,"y":-0.75,"a":78},{"x":-1.95,"y":-0.75,"a":77},{"x":-1.8,"y":-0.75,"a":75},{"x":-1.65,"y":-0.75,"a":72},{"x":-1.5,"y":-0.75,"a":69},{"x":-1.35,"y":-0.75,"a":64},{"x":-1.2,"y":-0.75,"a":58},{"x":-1.05,"y":-0.75,"a":50},{"x":-0.9,"y":-0.75,"a":39},{"x":-0.75,"y":-0.75,"a":24},{"x":-0.6,"y":-0.75,"a":7},{"x":-0.45,"y":-0.75,"a":-9},{"x":-0.3,"y":-0.75,"a":-22},{"x":-0.15,"y":-0.75,"a":-32},{"x":0,"y":-0.75,"a":-38},{"x":0.15,"y":-0.75,"a":-43},{"x":0.3,"y":-0.75,"a":-46},{"x":0.45,"y":-0.75,"a":-48},{"x":0.6,"y":-0.75,"a":-49},{"x":0.75,"y":-0.75,"a":-49},{"x":0.9,"y":-0.75,"a":-48},{"x":1.05,"y":-0.75,"a":-46},{"x":1.2,"y":-0.75,"a":-43},{"x":1.35,"y":-0.75,"a":-38},{"x":1.5,"y":-0.75,"a":-31},{"x":1.65,"y":-0.75,"a":-21},{"x":1.8,"y":-0.75,"a":-7},{"x":1.95,"y":-0.75,"a":9},{"x":2.1,"y":-0.75,"a":26},{"x":2.25,"y":-0.75,"a":40},{"x":2.4,"y":-0.75,"a":51},{"x":2.55,"y":-0.75,"a":59},{"x":2.7,"y":-0.75,"a":65},{"x":2.85,"y":-0.75,"a":69},{"x":3,"y":-0.75,"a":72},
{"x":-3,"y":-0.9,"a":84},{"x":-2.85,"y":-0.9,"a":83},{"x":-2.7,"y":-0.9,"a":82},{"x":-2.55,"y":-0.9,"a":81},{"x":-2.4,"y":-0.9,"a":80},{"x":-2.25,"y":-0.9,"a":79},{"x":-2.1,"y":-0.9,"a":78},{"x":-1.95,"y":-0.9,"a":76},{"x":-1.8,"y":-0.9,"a":73},{"x":-1.65,"y":-0.9,"a":70},{"x":-1.5,"y":-0.9,"a":67},{"x":-1.35,"y":-0.9,"a":61},{"x":-1.2,"y":-0.9,"a":54},{"x":-1.05,"y":-0.9,"a":45},{"x":-0.9,"y":-0.9,"a":33},{"x":-0.75,"y":-0.9,"a":17},{"x":-0.6,"y":-0.9,"a":1},{"x":-0.45,"y":-0.9,"a":-13},{"x":-0.3,"y":-0.9,"a":-25},{"x":-0.15,"y":-0.9,"a":-33},{"x":0,"y":-0.9,"a":-38},{"x":0.15,"y":-0.9,"a":-42},{"x":0.3,"y":-0.9,"a":-44},{"x":0.45,"y":-0.9,"a":-46},{"x":0.6,"y":-0.9,"a":-46},{"x":0.75,"y":-0.9,"a":-45},{"x":0.9,"y":-0.9,"a":-43},{"x":1.05,"y":-0.9,"a":-40},{"x":1.2,"y":-0.9,"a":-35},{"x":1.35,"y":-0.9,"a":-28},{"x":1.5,"y":-0.9,"a":-18},{"x":1.65,"y":-0.9,"a":-5},{"x":1.8,"y":-0.9,"a":11},{"x":1.95,"y":-0.9,"a":27},{"x":2.1,"y":-0.9,"a":40},{"x":2.25,"y":-0.9,"a":51},{"x":2.4,"y":-0.9,"a":59},{"x":2.55,"y":-0.9,"a":65},{"x":2.7,"y":-0.9,"a":69},{"x":2.85,"y":-0.9,"a":72},{"x":3,"y":-0.9,"a":75},
{"x":-3,"y":-1.05,"a":83},{"x":-2.85,"y":-1.05,"a":83},{"x":-2.7,"y":-1.05,"a":82},{"x":-2.55,"y":-1.05,"a":81},{"x":-2.4,"y":-1.05,"a":80},{"x":-2.25,"y":-1.05,"a":78},{"x":-2.1,"y":-1.05,"a":77},{"x":-1.95,"y":-1.05,"a":75},{"x":-1.8,"y":-1.05,"a":72},{"x":-1.65,"y":-1.05,"a":69},{"x":-1.5,"y":-1.05,"a":65},{"x":-1.35,"y":-1.05,"a":59},{"x":-1.2,"y":-1.05,"a":51},{"x":-1.05,"y":-1.05,"a":41},{"x":-0.9,"y":-1.05,"a":28},{"x":-0.75,"y":-1.05,"a":12},{"x":-0.6,"y":-1.05,"a":-3},{"x":-0.45,"y":-1.05,"a":-16},{"x":-0.3,"y":-1.05,"a":-26},{"x":-0.15,"y":-1.05,"a":-34},{"x":0,"y":-1.05,"a":-38},{"x":0.15,"y":-1.05,"a":-42},{"x":0.3,"y":-1.05,"a":-43},{"x":0.45,"y":-1.05,"a":-44},{"x":0.6,"y":-1.05,"a":-44},{"x":0.75,"y":-1.05,"a":-42},{"x":0.9,"y":-1.05,"a":-40},{"x":1.05,"y":-1.05,"a":-35},{"x":1.2,"y":-1.05,"a":-29},{"x":1.35,"y":-1.05,"a":-20},{"x":1.5,"y":-1.05,"a":-8},{"x":1.65,"y":-1.05,"a":7},{"x":1.8,"y":-1.05,"a":23},{"x":1.95,"y":-1.05,"a":37},{"x":2.1,"y":-1.05,"a":48},{"x":2.25,"y":-1.05,"a":57},{"x":2.4,"y":-1.05,"a":63},{"x":2.55,"y":-1.05,"a":68},{"x":2.7,"y":-1.05,"a":71},{"x":2.85,"y":-1.05,"a":74},{"x":3,"y":-1.05,"a":76},
{"x":-3,"y":-1.2,"a":83},{"x":-2.85,"y":-1.2,"a":82},{"x":-2.7,"y":-1.2,"a":82},{"x":-2.55,"y":-1.2,"a":81},{"x":-2.4,"y":-1.2,"a":79},{"x":-2.25,"y":-1.2,"a":78},{"x":-2.1,"y":-1.2,"a":76},{"x":-1.95,"y":-1.2,"a":74},{"x":-1.8,"y":-1.2,"a":71},{"x":-1.65,"y":-1.2,"a":68},{"x":-1.5,"y":-1.2,"a":63},{"x":-1.35,"y":-1.2,"a":57},{"x":-1.2,"y":-1.2,"a":49},{"x":-1.05,"y":-1.2,"a":38},{"x":-0.9,"y":-1.2,"a":24},{"x":-0.75,"y":-1.2,"a":8},{"x":-0.6,"y":-1.2,"a":-6},{"x":-0.45,"y":-1.2,"a":-18},{"x":-0.3,"y":-1.2,"a":-28},{"x":-0.15,"y":-1.2,"a":-34},{"x":0,"y":-1.2,"a":-38},{"x":0.15,"y":-1.2,"a":-41},{"x":0.3,"y":-1.2,"a":-43},{"x":0.45,"y":-1.2,"a":-43},{"x":0.6,"y":-1.2,"a":-42},{"x":0.75,"y":-1.2,"a":-40},{"x":0.9,"y":-1.2,"a":-37},{"x":1.05,"y":-1.2,"a":-31},{"x":1.2,"y":-1.2,"a":-24},{"x":1.35,"y":-1.2,"a":-13},{"x":1.5,"y":-1.2,"a":0},{"x":1.65,"y":-1.2,"a":15},{"x":1.8,"y":-1.2,"a":30},{"x":1.95,"y":-1.2,"a":43},{"x":2.1,"y":-1.2,"a":53},{"x":2.25,"y":-1.2,"a":60},{"x":2.4,"y":-1.2,"a":65},{"x":2.55,"y":-1.2,"a":70},{"x":2.7,"y":-1.2,"a":73},{"x":2.85,"y":-1.2,"a":75},{"x":3,"y":-1.2,"a":77},
{"x":-3,"y":-1.35,"a":83},{"x":-2.85,"y":-1.35,"a":82},{"x":-2.7,"y":-1.35,"a":81},{"x":-2.55,"y":-1.35,"a":80},{"x":-2.4,"y":-1.35,"a":79},{"x":-2.25,"y":-1.35,"a":78},{"x":-2.1,"y":-1.35,"a":76},{"x":-1.95,"y":-1.35,"a":73},{"x":-1.8,"y":-1.35,"a":70},{"x":-1.65,"y":-1.35,"a":67},{"x":-1.5,"y":-1.35,"a":62},{"x":-1.35,"y":-1.35,"a":55},{"x":-1.2,"y":-1.35,"a":46},{"x":-1.05,"y":-1.35,"a":35},{"x":-0.9,"y":-1.35,"a":21},{"x":-0.75,"y":-1.35,"a":5},{"x":-0.6,"y":-1.35,"a":-9},{"x":-0.45,"y":-1.35,"a":-20},{"x":-0.3,"y":-1.35,"a":-29},{"x":-0.15,"y":-1.35,"a":-35},{"x":0,"y":-1.35,"a":-38},{"x":0.15,"y":-1.35,"a":-41},{"x":0.3,"y":-1.35,"a":-42},{"x":0.45,"y":-1.35,"a":-42},{"x":0.6,"y":-1.35,"a":-41},{"x":0.75,"y":-1.35,"a":-38},{"x":0.9,"y":-1.35,"a":-34},{"x":1.05,"y":-1.35,"a":-28},{"x":1.2,"y":-1.35,"a":-20},{"x":1.35,"y":-1.35,"a":-8},{"x":1.5,"y":-1.35,"a":6},{"x":1.65,"y":-1.35,"a":22},{"x":1.8,"y":-1.35,"a":36},{"x":1.95,"y":-1.35,"a":47},{"x":2.1,"y":-1.35,"a":56},{"x":2.25,"y":-1.35,"a":62},{"x":2.4,"y":-1.35,"a":67},{"x":2.55,"y":-1.35,"a":71},{"x":2.7,"y":-1.35,"a":73},{"x":2.85,"y":-1.35,"a":76},{"x":3,"y":-1.35,"a":78},
{"x":-3,"y":-1.5,"a":83},{"x":-2.85,"y":-1.5,"a":82},{"x":-2.7,"y":-1.5,"a":81},{"x":-2.55,"y":-1.5,"a":80},{"x":-2.4,"y":-1.5,"a":79},{"x":-2.25,"y":-1.5,"a":77},{"x":-2.1,"y":-1.5,"a":75},{"x":-1.95,"y":-1.5,"a":73},{"x":-1.8,"y":-1.5,"a":70},{"x":-1.65,"y":-1.5,"a":66},{"x":-1.5,"y":-1.5,"a":61},{"x":-1.35,"y":-1.5,"a":54},{"x":-1.2,"y":-1.5,"a":44},{"x":-1.05,"y":-1.5,"a":32},{"x":-0.9,"y":-1.5,"a":18},{"x":-0.75,"y":-1.5,"a":3},{"x":-0.6,"y":-1.5,"a":-11},{"x":-0.45,"y":-1.5,"a":-22},{"x":-0.3,"y":-1.5,"a":-29},{"x":-0.15,"y":-1.5,"a":-35},{"x":0,"y":-1.5,"a":-38},{"x":0.15,"y":-1.5,"a":-40},{"x":0.3,"y":-1.5,"a":-41},{"x":0.45,"y":-1.5,"a":-41},{"x":0.6,"y":-1.5,"a":-39},{"x":0.75,"y":-1.5,"a":-37},{"x":0.9,"y":-1.5,"a":-32},{"x":1.05,"y":-1.5,"a":-25},{"x":1.2,"y":-1.5,"a":-16},{"x":1.35,"y":-1.5,"a":-4},{"x":1.5,"y":-1.5,"a":11},{"x":1.65,"y":-1.5,"a":26},{"x":1.8,"y":-1.5,"a":39},{"x":1.95,"y":-1.5,"a":50},{"x":2.1,"y":-1.5,"a":58},{"x":2.25,"y":-1.5,"a":64},{"x":2.4,"y":-1.5,"a":68},{"x":2.55,"y":-1.5,"a":72},{"x":2.7,"y":-1.5,"a":74},{"x":2.85,"y":-1.5,"a":76},{"x":3,"y":-1.5,"a":78},
{"x":-3,"y":-1.65,"a":83},{"x":-2.85,"y":-1.65,"a":82},{"x":-2.7,"y":-1.65,"a":81},{"x":-2.55,"y":-1.65,"a":80},{"x":-2.4,"y":-1.65,"a":78},{"x":-2.25,"y":-1.65,"a":77},{"x":-2.1,"y":-1.65,"a":75},{"x":-1.95,"y":-1.65,"a":72},{"x":-1.8,"y":-1.65,"a":69},{"x":-1.65,"y":-1.65,"a":65},{"x":-1.5,"y":-1.65,"a":60},{"x":-1.35,"y":-1.65,"a":52},{"x":-1.2,"y":-1.65,"a":43},{"x":-1.05,"y":-1.65,"a":30},{"x":-0.9,"y":-1.65,"a":16},{"x":-0.75,"y":-1.65,"a":0},{"x":-0.6,"y":-1.65,"a":-12},{"x":-0.45,"y":-1.65,"a":-23},{"x":-0.3,"y":-1.65,"a":-30},{"x":-0.15,"y":-1.65,"a":-35},{"x":0,"y":-1.65,"a":-38},{"x":0.15,"y":-1.65,"a":-40},{"x":0.3,"y":-1.65,"a":-41},{"x":0.45,"y":-1.65,"a":-40},{"x":0.6,"y":-1.65,"a":-38},{"x":0.75,"y":-1.65,"a":-35},{"x":0.9,"y":-1.65,"a":-30},{"x":1.05,"y":-1.65,"a":-23},{"x":1.2,"y":-1.65,"a":-13},{"x":1.35,"y":-1.65,"a":0},{"x":1.5,"y":-1.65,"a":15},{"x":1.65,"y":-1.65,"a":30},{"x":1.8,"y":-1.65,"a":42},{"x":1.95,"y":-1.65,"a":52},{"x":2.1,"y":-1.65,"a":59},{"x":2.25,"y":-1.65,"a":65},{"x":2.4,"y":-1.65,"a":69},{"x":2.55,"y":-1.65,"a":72},{"x":2.7,"y":-1.65,"a":75},{"x":2.85,"y":-1.65,"a":77},{"x":3,"y":-1.65,"a":78},
{"x":-3,"y":-1.8,"a":83},{"x":-2.85,"y":-1.8,"a":82},{"x":-2.7,"y":-1.8,"a":81},{"x":-2.55,"y":-1.8,"a":80},{"x":-2.4,"y":-1.8,"a":78},{"x":-2.25,"y":-1.8,"a":77},{"x":-2.1,"y":-1.8,"a":75},{"x":-1.95,"y":-1.8,"a":72},{"x":-1.8,"y":-1.8,"a":69},{"x":-1.65,"y":-1.8,"a":64},{"x":-1.5,"y":-1.8,"a":59},{"x":-1.35,"y":-1.8,"a":51},{"x":-1.2,"y":-1.8,"a":41},{"x":-1.05,"y":-1.8,"a":28},{"x":-0.9,"y":-1.8,"a":14},{"x":-0.75,"y":-1.8,"a":-1},{"x":-0.6,"y":-1.8,"a":-14},{"x":-0.45,"y":-1.8,"a":-24},{"x":-0.3,"y":-1.8,"a":-30},{"x":-0.15,"y":-1.8,"a":-35},{"x":0,"y":-1.8,"a":-38},{"x":0.15,"y":-1.8,"a":-40},{"x":0.3,"y":-1.8,"a":-40},{"x":0.45,"y":-1.8,"a":-40},{"x":0.6,"y":-1.8,"a":-37},{"x":0.75,"y":-1.8,"a":-34},{"x":0.9,"y":-1.8,"a":-29},{"x":1.05,"y":-1.8,"a":-21},{"x":1.2,"y":-1.8,"a":-10},{"x":1.35,"y":-1.8,"a":3},{"x":1.5,"y":-1.8,"a":18},{"x":1.65,"y":-1.8,"a":32},{"x":1.8,"y":-1.8,"a":44},{"x":1.95,"y":-1.8,"a":54},{"x":2.1,"y":-1.8,"a":61},{"x":2.25,"y":-1.8,"a":66},{"x":2.4,"y":-1.8,"a":70},{"x":2.55,"y":-1.8,"a":73},{"x":2.7,"y":-1.8,"a":75},{"x":2.85,"y":-1.8,"a":77},{"x":3,"y":-1.8,"a":79},
{"x":-3,"y":-1.95,"a":82},{"x":-2.85,"y":-1.95,"a":82},{"x":-2.7,"y":-1.95,"a":81},{"x":-2.55,"y":-1.95,"a":80},{"x":-2.4,"y":-1.95,"a":78},{"x":-2.25,"y":-1.95,"a":76},{"x":-2.1,"y":-1.95,"a":74},{"x":-1.95,"y":-1.95,"a":72},{"x":-1.8,"y":-1.95,"a":68},{"x":-1.65,"y":-1.95,"a":64},{"x":-1.5,"y":-1.95,"a":58},{"x":-1.35,"y":-1.95,"a":50},{"x":-1.2,"y":-1.95,"a":40},{"x":-1.05,"y":-1.95,"a":27},{"x":-0.9,"y":-1.95,"a":12},{"x":-0.75,"y":-1.95,"a":-3},{"x":-0.6,"y":-1.95,"a":-15},{"x":-0.45,"y":-1.95,"a":-24},{"x":-0.3,"y":-1.95,"a":-31},{"x":-0.15,"y":-1.95,"a":-35},{"x":0,"y":-1.95,"a":-38},{"x":0.15,"y":-1.95,"a":-40},{"x":0.3,"y":-1.95,"a":-40},{"x":0.45,"y":-1.95,"a":-39},{"x":0.6,"y":-1.95,"a":-37},{"x":0.75,"y":-1.95,"a":-33},{"x":0.9,"y":-1.95,"a":-27},{"x":1.05,"y":-1.95,"a":-19},{"x":1.2,"y":-1.95,"a":-8},{"x":1.35,"y":-1.95,"a":6},{"x":1.5,"y":-1.95,"a":21},{"x":1.65,"y":-1.95,"a":35},{"x":1.8,"y":-1.95,"a":46},{"x":1.95,"y":-1.95,"a":55},{"x":2.1,"y":-1.95,"a":62},{"x":2.25,"y":-1.95,"a":67},{"x":2.4,"y":-1.95,"a":70},{"x":2.55,"y":-1.95,"a":73},{"x":2.7,"y":-1.95,"a":76},{"x":2.85,"y":-1.95,"a":77},{"x":3,"y":-1.95,"a":79},
{"x":-3,"y":-2.1,"a":82},{"x":-2.85,"y":-2.1,"a":81},{"x":-2.7,"y":-2.1,"a":81},{"x":-2.55,"y":-2.1,"a":79},{"x":-2.4,"y":-2.1,"a":78},{"x":-2.25,"y":-2.1,"a":76},{"x":-2.1,"y":-2.1,"a":74},{"x":-1.95,"y":-2.1,"a":71},{"x":-1.8,"y":-2.1,"a":68},{"x":-1.65,"y":-2.1,"a":63},{"x":-1.5,"y":-2.1,"a":57},{"x":-1.35,"y":-2.1,"a":49},{"x":-1.2,"y":-2.1,"a":39},{"x":-1.05,"y":-2.1,"a":25},{"x":-0.9,"y":-2.1,"a":11},{"x":-0.75,"y":-2.1,"a":-4},{"x":-0.6,"y":-2.1,"a":-16},{"x":-0.45,"y":-2.1,"a":-25},{"x":-0.3,"y":-2.1,"a":-31},{"x":-0.15,"y":-2.1,"a":-36},{"x":0,"y":-2.1,"a":-38},{"x":0.15,"y":-2.1,"a":-40},{"x":0.3,"y":-2.1,"a":-40},{"x":0.45,"y":-2.1,"a":-39},{"x":0.6,"y":-2.1,"a":-36},{"x":0.75,"y":-2.1,"a":-32},{"x":0.9,"y":-2.1,"a":-26},{"x":1.05,"y":-2.1,"a":-18},{"x":1.2,"y":-2.1,"a":-6},{"x":1.35,"y":-2.1,"a":8},{"x":1.5,"y":-2.1,"a":23},{"x":1.65,"y":-2.1,"a":37},{"x":1.8,"y":-2.1,"a":47},{"x":1.95,"y":-2.1,"a":56},{"x":2.1,"y":-2.1,"a":62},{"x":2.25,"y":-2.1,"a":67},{"x":2.4,"y":-2.1,"a":71},{"x":2.55,"y":-2.1,"a":73},{"x":2.7,"y":-2.1,"a":76},{"x":2.85,"y":-2.1,"a":78},{"x":3,"y":-2.1,"a":79},
{"x":-3,"y":-2.25,"a":82},{"x":-2.85,"y":-2.25,"a":81},{"x":-2.7,"y":-2.25,"a":80},{"x":-2.55,"y":-2.25,"a":79},{"x":-2.4,"y":-2.25,"a":78},{"x":-2.25,"y":-2.25,"a":76},{"x":-2.1,"y":-2.25,"a":74},{"x":-1.95,"y":-2.25,"a":71},{"x":-1.8,"y":-2.25,"a":67},{"x":-1.65,"y":-2.25,"a":63},{"x":-1.5,"y":-2.25,"a":57},{"x":-1.35,"y":-2.25,"a":48},{"x":-1.2,"y":-2.25,"a":37},{"x":-1.05,"y":-2.25,"a":24},{"x":-0.9,"y":-2.25,"a":9},{"x":-0.75,"y":-2.25,"a":-5},{"x":-0.6,"y":-2.25,"a":-16},{"x":-0.45,"y":-2.25,"a":-25},{"x":-0.3,"y":-2.25,"a":-32},{"x":-0.15,"y":-2.25,"a":-36},{"x":0,"y":-2.25,"a":-38},{"x":0.15,"y":-2.25,"a":-39},{"x":0.3,"y":-2.25,"a":-39},{"x":0.45,"y":-2.25,"a":-38},{"x":0.6,"y":-2.25,"a":-36},{"x":0.75,"y":-2.25,"a":-31},{"x":0.9,"y":-2.25,"a":-25},{"x":1.05,"y":-2.25,"a":-16},{"x":1.2,"y":-2.25,"a":-4},{"x":1.35,"y":-2.25,"a":10},{"x":1.5,"y":-2.25,"a":25},{"x":1.65,"y":-2.25,"a":38},{"x":1.8,"y":-2.25,"a":49},{"x":1.95,"y":-2.25,"a":57},{"x":2.1,"y":-2.25,"a":63},{"x":2.25,"y":-2.25,"a":68},{"x":2.4,"y":-2.25,"a":71},{"x":2.55,"y":-2.25,"a":74},{"x":2.7,"y":-2.25,"a":76},{"x":2.85,"y":-2.25,"a":78},{"x":3,"y":-2.25,"a":79},
{"x":-3,"y":-2.4,"a":82},{"x":-2.85,"y":-2.4,"a":81},{"x":-2.7,"y":-2.4,"a":80},{"x":-2.55,"y":-2.4,"a":79},{"x":-2.4,"y":-2.4,"a":78},{"x":-2.25,"y":-2.4,"a":76},{"x":-2.1,"y":-2.4,"a":73},{"x":-1.95,"y":-2.4,"a":71},{"x":-1.8,"y":-2.4,"a":67},{"x":-1.65,"y":-2.4,"a":62},{"x":-1.5,"y":-2.4,"a":56},{"x":-1.35,"y":-2.4,"a":47},{"x":-1.2,"y":-2.4,"a":37},{"x":-1.05,"y":-2.4,"a":23},{"x":-0.9,"y":-2.4,"a":8},{"x":-0.75,"y":-2.4,"a":-6},{"x":-0.6,"y":-2.4,"a":-17},{"x":-0.45,"y":-2.4,"a":-26},{"x":-0.3,"y":-2.4,"a":-32},{"x":-0.15,"y":-2.4,"a":-36},{"x":0,"y":-2.4,"a":-38},{"x":0.15,"y":-2.4,"a":-39},{"x":0.3,"y":-2.4,"a":-39},{"x":0.45,"y":-2.4,"a":-38},{"x":0.6,"y":-2.4,"a":-35},{"x":0.75,"y":-2.4,"a":-31},{"x":0.9,"y":-2.4,"a":-24},{"x":1.05,"y":-2.4,"a":-15},{"x":1.2,"y":-2.4,"a":-3},{"x":1.35,"y":-2.4,"a":12},{"x":1.5,"y":-2.4,"a":26},{"x":1.65,"y":-2.4,"a":39},{"x":1.8,"y":-2.4,"a":50},{"x":1.95,"y":-2.4,"a":58},{"x":2.1,"y":-2.4,"a":64},{"x":2.25,"y":-2.4,"a":68},{"x":2.4,"y":-2.4,"a":71},{"x":2.55,"y":-2.4,"a":74},{"x":2.7,"y":-2.4,"a":76},{"x":2.85,"y":-2.4,"a":78},{"x":3,"y":-2.4,"a":79},
{"x":-3,"y":-2.55,"a":82},{"x":-2.85,"y":-2.55,"a":81},{"x":-2.7,"y":-2.55,"a":80},{"x":-2.55,"y":-2.55,"a":79},{"x":-2.4,"y":-2.55,"a":77},{"x":-2.25,"y":-2.55,"a":76},{"x":-2.1,"y":-2.55,"a":73},{"x":-1.95,"y":-2.55,"a":70},{"x":-1.8,"y":-2.55,"a":67},{"x":-1.65,"y":-2.55,"a":62},{"x":-1.5,"y":-2.55,"a":55},{"x":-1.35,"y":-2.55,"a":47},{"x":-1.2,"y":-2.55,"a":36},{"x":-1.05,"y":-2.55,"a":22},{"x":-0.9,"y":-2.55,"a":7},{"x":-0.75,"y":-2.55,"a":-7},{"x":-0.6,"y":-2.55,"a":-18},{"x":-0.45,"y":-2.55,"a":-26},{"x":-0.3,"y":-2.55,"a":-32},{"x":-0.15,"y":-2.55,"a":-36},{"x":0,"y":-2.55,"a":-38},{"x":0.15,"y":-2.55,"a":-39},{"x":0.3,"y":-2.55,"a":-39},{"x":0.45,"y":-2.55,"a":-37},{"x":0.6,"y":-2.55,"a":-35},{"x":0.75,"y":-2.55,"a":-30},{"x":0.9,"y":-2.55,"a":-23},{"x":1.05,"y":-2.55,"a":-14},{"x":1.2,"y":-2.55,"a":-1},{"x":1.35,"y":-2.55,"a":13},{"x":1.5,"y":-2.55,"a":28},{"x":1.65,"y":-2.55,"a":40},{"x":1.8,"y":-2.55,"a":50},{"x":1.95,"y":-2.55,"a":58},{"x":2.1,"y":-2.55,"a":64},{"x":2.25,"y":-2.55,"a":68},{"x":2.4,"y":-2.55,"a":72},{"x":2.55,"y":-2.55,"a":74},{"x":2.7,"y":-2.55,"a":76},{"x":2.85,"y":-2.55,"a":78},{"x":3,"y":-2.55,"a":80},
{"x":-3,"y":-2.7,"a":82},{"x":-2.85,"y":-2.7,"a":81},{"x":-2.7,"y":-2.7,"a":80},{"x":-2.55,"y":-2.7,"a":79},{"x":-2.4,"y":-2.7,"a":77},{"x":-2.25,"y":-2.7,"a":75},{"x":-2.1,"y":-2.7,"a":73},{"x":-1.95,"y":-2.7,"a":70},{"x":-1.8,"y":-2.7,"a":67},{"x":-1.65,"y":-2.7,"a":61},{"x":-1.5,"y":-2.7,"a":55},{"x":-1.35,"y":-2.7,"a":46},{"x":-1.2,"y":-2.7,"a":35},{"x":-1.05,"y":-2.7,"a":21},{"x":-0.9,"y":-2.7,"a":6},{"x":-0.75,"y":-2.7,"a":-7},{"x":-0.6,"y":-2.7,"a":-18},{"x":-0.45,"y":-2.7,"a":-27},{"x":-0.3,"y":-2.7,"a":-32},{"x":-0.15,"y":-2.7,"a":-36},{"x":0,"y":-2.7,"a":-38},{"x":0.15,"y":-2.7,"a":-39},{"x":0.3,"y":-2.7,"a":-39},{"x":0.45,"y":-2.7,"a":-37},{"x":0.6,"y":-2.7,"a":-34},{"x":0.75,"y":-2.7,"a":-30},{"x":0.9,"y":-2.7,"a":-22},{"x":1.05,"y":-2.7,"a":-13},{"x":1.2,"y":-2.7,"a":0},{"x":1.35,"y":-2.7,"a":14},{"x":1.5,"y":-2.7,"a":29},{"x":1.65,"y":-2.7,"a":41},{"x":1.8,"y":-2.7,"a":51},{"x":1.95,"y":-2.7,"a":59},{"x":2.1,"y":-2.7,"a":64},{"x":2.25,"y":-2.7,"a":69},{"x":2.4,"y":-2.7,"a":72},{"x":2.55,"y":-2.7,"a":75},{"x":2.7,"y":-2.7,"a":77},{"x":2.85,"y":-2.7,"a":78},{"x":3,"y":-2.7,"a":80},
{"x":-3,"y":-2.85,"a":82},{"x":-2.85,"y":-2.85,"a":81},{"x":-2.7,"y":-2.85,"a":80},{"x":-2.55,"y":-2.85,"a":79},{"x":-2.4,"y":-2.85,"a":77},{"x":-2.25,"y":-2.85,"a":75},{"x":-2.1,"y":-2.85,"a":73},{"x":-1.95,"y":-2.85,"a":70},{"x":-1.8,"y":-2.85,"a":66},{"x":-1.65,"y":-2.85,"a":61},{"x":-1.5,"y":-2.85,"a":55},{"x":-1.35,"y":-2.85,"a":46},{"x":-1.2,"y":-2.85,"a":34},{"x":-1.05,"y":-2.85,"a":20},{"x":-0.9,"y":-2.85,"a":6},{"x":-0.75,"y":-2.85,"a":-8},{"x":-0.6,"y":-2.85,"a":-19},{"x":-0.45,"y":-2.85,"a":-27},{"x":-0.3,"y":-2.85,"a":-33},{"x":-0.15,"y":-2.85,"a":-36},{"x":0,"y":-2.85,"a":-38},{"x":0.15,"y":-2.85,"a":-39},{"x":0.3,"y":-2.85,"a":-39},{"x":0.45,"y":-2.85,"a":-37},{"x":0.6,"y":-2.85,"a":-34},{"x":0.75,"y":-2.85,"a":-29},{"x":0.9,"y":-2.85,"a":-22},{"x":1.05,"y":-2.85,"a":-12},{"x":1.2,"y":-2.85,"a":1},{"x":1.35,"y":-2.85,"a":16},{"x":1.5,"y":-2.85,"a":30},{"x":1.65,"y":-2.85,"a":42},{"x":1.8,"y":-2.85,"a":52},{"x":1.95,"y":-2.85,"a":59},{"x":2.1,"y":-2.85,"a":65},{"x":2.25,"y":-2.85,"a":69},{"x":2.4,"y":-2.85,"a":72},{"x":2.55,"y":-2.85,"a":75},{"x":2.7,"y":-2.85,"a":77},{"x":2.85,"y":-2.85,"a":78},{"x":3,"y":-2.85,"a":80},
{"x":-3,"y":-3,"a":82},{"x":-2.85,"y":-3,"a":81},{"x":-2.7,"y":-3,"a":80},{"x":-2.55,"y":-3,"a":79},{"x":-2.4,"y":-3,"a":77},{"x":-2.25,"y":-3,"a":75},{"x":-2.1,"y":-3,"a":73},{"x":-1.95,"y":-3,"a":70},{"x":-1.8,"y":-3,"a":66},{"x":-1.65,"y":-3,"a":61},{"x":-1.5,"y":-3,"a":54},{"x":-1.35,"y":-3,"a":45},{"x":-1.2,"y":-3,"a":34},{"x":-1.05,"y":-3,"a":20},{"x":-0.9,"y":-3,"a":5},{"x":-0.75,"y":-3,"a":-8},{"x":-0.6,"y":-3,"a":-19},{"x":-0.45,"y":-3,"a":-27},{"x":-0.3,"y":-3,"a":-33},{"x":-0.15,"y":-3,"a":-36},{"x":0,"y":-3,"a":-38},{"x":0.15,"y":-3,"a":-39},{"x":0.3,"y":-3,"a":-39},{"x":0.45,"y":-3,"a":-37},{"x":0.6,"y":-3,"a":-34},{"x":0.75,"y":-3,"a":-29},{"x":0.9,"y":-3,"a":-21},{"x":1.05,"y":-3,"a":-11},{"x":1.2,"y":-3,"a":2},{"x":1.35,"y":-3,"a":16},{"x":1.5,"y":-3,"a":31},{"x":1.65,"y":-3,"a":43},{"x":1.8,"y":-3,"a":52},{"x":1.95,"y":-3,"a":60},{"x":2.1,"y":-3,"a":65},{"x":2.25,"y":-3,"a":69},{"x":2.4,"y":-3,"a":72},{"x":2.55,"y":-3,"a":75},{"x":2.7,"y":-3,"a":77},{"x":2.85,"y":-3,"a":78},{"x":3,"y":-3,"a":80}
  ]},
  "mark":{"type":"point","shape":"M0,0L2,0M1.6,-0.3L2,0L1.6,0.3","size":42,"filled":false,"stroke":"#8a8a8a","strokeWidth":0.8,"opacity":1,"clip":true},
  "encoding":{
   "x":{"field":"x","type":"quantitative","scale":{"domain":[-3,3],"nice":false,"zero":false},"axis":{"orient":"top","labels":false,"values":[-3,-2,-1,0,1,2,3]}},
   "y":{"field":"y","type":"quantitative","scale":{"domain":[-3,3],"nice":false,"zero":false},"axis":{"orient":"right","labels":false,"values":[-3,-2,-1,0,1,2,3]}},
   "angle":{"field":"a","type":"quantitative","scale":null}
  }
 },
 {
  "data":{"values":[
{"s":"TRUE ROA","o":1,"x":-2.01,"y":0.01},{"s":"TRUE ROA","o":2,"x":-2.0,"y":0.3},{"s":"TRUE ROA","o":3,"x":-1.92,"y":0.51},{"s":"TRUE ROA","o":4,"x":-1.78,"y":0.65},{"s":"TRUE ROA","o":5,"x":-1.51,"y":0.83},{"s":"TRUE ROA","o":6,"x":-1.18,"y":1.0},{"s":"TRUE ROA","o":7,"x":-0.86,"y":1.24},{"s":"TRUE ROA","o":8,"x":-0.54,"y":1.53},{"s":"TRUE ROA","o":9,"x":-0.21,"y":1.88},{"s":"TRUE ROA","o":10,"x":-0.03,"y":2.14},{"s":"TRUE ROA","o":11,"x":0.25,"y":2.4},{"s":"TRUE ROA","o":12,"x":0.55,"y":2.61},{"s":"TRUE ROA","o":13,"x":0.85,"y":2.67},{"s":"TRUE ROA","o":14,"x":1.17,"y":2.55},{"s":"TRUE ROA","o":15,"x":1.36,"y":2.34},{"s":"TRUE ROA","o":16,"x":1.54,"y":2.05},{"s":"TRUE ROA","o":17,"x":1.7,"y":1.64},{"s":"TRUE ROA","o":18,"x":1.84,"y":1.18},{"s":"TRUE ROA","o":19,"x":1.93,"y":0.71},{"s":"TRUE ROA","o":20,"x":2.0,"y":0.13},{"s":"TRUE ROA","o":21,"x":1.99,"y":-0.16},{"s":"TRUE ROA","o":22,"x":1.93,"y":-0.4},{"s":"TRUE ROA","o":23,"x":1.82,"y":-0.54},{"s":"TRUE ROA","o":24,"x":1.68,"y":-0.63},{"s":"TRUE ROA","o":25,"x":1.45,"y":-0.8},{"s":"TRUE ROA","o":26,"x":1.13,"y":-1.03},{"s":"TRUE ROA","o":27,"x":0.8,"y":-1.33},{"s":"TRUE ROA","o":28,"x":0.43,"y":-1.74},{"s":"TRUE ROA","o":29,"x":0.11,"y":-2.03},{"s":"TRUE ROA","o":30,"x":-0.07,"y":-2.26},{"s":"TRUE ROA","o":31,"x":-0.35,"y":-2.5},{"s":"TRUE ROA","o":32,"x":-0.58,"y":-2.62},{"s":"TRUE ROA","o":33,"x":-0.86,"y":-2.67},{"s":"TRUE ROA","o":34,"x":-1.09,"y":-2.61},{"s":"TRUE ROA","o":35,"x":-1.32,"y":-2.44},{"s":"TRUE ROA","o":36,"x":-1.55,"y":-2.09},{"s":"TRUE ROA","o":37,"x":-1.74,"y":-1.62},{"s":"TRUE ROA","o":38,"x":-1.87,"y":-1.1},{"s":"TRUE ROA","o":39,"x":-1.97,"y":-0.57},{"s":"TRUE ROA","o":40,"x":-2.01,"y":0.01},
{"s":"SDSOS ROA","o":1,"x":-1.57,"y":0.01},{"s":"SDSOS ROA","o":2,"x":-1.51,"y":0.36},{"s":"SDSOS ROA","o":3,"x":-1.41,"y":0.59},{"s":"SDSOS ROA","o":4,"x":-1.27,"y":0.77},{"s":"SDSOS ROA","o":5,"x":-1.0,"y":1.03},{"s":"SDSOS ROA","o":6,"x":-0.72,"y":1.21},{"s":"SDSOS ROA","o":7,"x":-0.44,"y":1.41},{"s":"SDSOS ROA","o":8,"x":-0.17,"y":1.64},{"s":"SDSOS ROA","o":9,"x":0.25,"y":1.97},{"s":"SDSOS ROA","o":10,"x":0.53,"y":2.06},{"s":"SDSOS ROA","o":11,"x":0.71,"y":2.05},{"s":"SDSOS ROA","o":12,"x":0.94,"y":1.94},{"s":"SDSOS ROA","o":13,"x":1.13,"y":1.7},{"s":"SDSOS ROA","o":14,"x":1.33,"y":1.24},{"s":"SDSOS ROA","o":15,"x":1.45,"y":0.89},{"s":"SDSOS ROA","o":16,"x":1.54,"y":0.54},{"s":"SDSOS ROA","o":17,"x":1.57,"y":0.3},{"s":"SDSOS ROA","o":18,"x":1.57,"y":0.01},{"s":"SDSOS ROA","o":19,"x":1.54,"y":-0.28},{"s":"SDSOS ROA","o":20,"x":1.45,"y":-0.51},{"s":"SDSOS ROA","o":21,"x":1.26,"y":-0.75},{"s":"SDSOS ROA","o":22,"x":0.99,"y":-0.98},{"s":"SDSOS ROA","o":23,"x":0.66,"y":-1.27},{"s":"SDSOS ROA","o":24,"x":0.34,"y":-1.53},{"s":"SDSOS ROA","o":25,"x":-0.03,"y":-1.8},{"s":"SDSOS ROA","o":26,"x":-0.17,"y":-1.91},{"s":"SDSOS ROA","o":27,"x":-0.49,"y":-2.06},{"s":"SDSOS ROA","o":28,"x":-0.72,"y":-2.06},{"s":"SDSOS ROA","o":29,"x":-0.95,"y":-1.94},{"s":"SDSOS ROA","o":30,"x":-1.14,"y":-1.68},{"s":"SDSOS ROA","o":31,"x":-1.32,"y":-1.27},{"s":"SDSOS ROA","o":32,"x":-1.41,"y":-0.92},{"s":"SDSOS ROA","o":33,"x":-1.51,"y":-0.63},{"s":"SDSOS ROA","o":34,"x":-1.57,"y":-0.16},{"s":"SDSOS ROA","o":35,"x":-1.57,"y":0.01},
{"s":"SOS ROA","o":1,"x":-1.59,"y":0.01},{"s":"SOS ROA","o":2,"x":-1.53,"y":0.36},{"s":"SOS ROA","o":3,"x":-1.41,"y":0.65},{"s":"SOS ROA","o":4,"x":-1.27,"y":0.83},{"s":"SOS ROA","o":5,"x":-1.0,"y":1.06},{"s":"SOS ROA","o":6,"x":-0.72,"y":1.27},{"s":"SOS ROA","o":7,"x":-0.44,"y":1.44},{"s":"SOS ROA","o":8,"x":-0.17,"y":1.59},{"s":"SOS ROA","o":9,"x":0.25,"y":1.69},{"s":"SOS ROA","o":10,"x":0.39,"y":1.7},{"s":"SOS ROA","o":11,"x":0.66,"y":1.67},{"s":"SOS ROA","o":12,"x":0.94,"y":1.59},{"s":"SOS ROA","o":13,"x":1.13,"y":1.44},{"s":"SOS ROA","o":14,"x":1.26,"y":1.27},{"s":"SOS ROA","o":15,"x":1.36,"y":1.12},{"s":"SOS ROA","o":16,"x":1.47,"y":0.83},{"s":"SOS ROA","o":17,"x":1.54,"y":0.54},{"s":"SOS ROA","o":18,"x":1.59,"y":0.3},{"s":"SOS ROA","o":19,"x":1.6,"y":0.01},{"s":"SOS ROA","o":20,"x":1.57,"y":-0.22},{"s":"SOS ROA","o":21,"x":1.5,"y":-0.45},{"s":"SOS ROA","o":22,"x":1.36,"y":-0.69},{"s":"SOS ROA","o":23,"x":1.13,"y":-0.92},{"s":"SOS ROA","o":24,"x":0.8,"y":-1.18},{"s":"SOS ROA","o":25,"x":0.43,"y":-1.45},{"s":"SOS ROA","o":26,"x":0.16,"y":-1.59},{"s":"SOS ROA","o":27,"x":-0.17,"y":-1.65},{"s":"SOS ROA","o":28,"x":-0.54,"y":-1.71},{"s":"SOS ROA","o":29,"x":-0.77,"y":-1.68},{"s":"SOS ROA","o":30,"x":-1.0,"y":-1.59},{"s":"SOS ROA","o":31,"x":-1.18,"y":-1.45},{"s":"SOS ROA","o":32,"x":-1.34,"y":-1.18},{"s":"SOS ROA","o":33,"x":-1.46,"y":-0.86},{"s":"SOS ROA","o":34,"x":-1.55,"y":-0.51},{"s":"SOS ROA","o":35,"x":-1.6,"y":-0.1},{"s":"SOS ROA","o":36,"x":-1.59,"y":0.01},
{"s":"DSOS ROA","o":1,"x":-1.27,"y":0.01},{"s":"DSOS ROA","o":2,"x":-1.25,"y":0.13},{"s":"DSOS ROA","o":3,"x":-1.2,"y":0.36},{"s":"DSOS ROA","o":4,"x":-1.14,"y":0.54},{"s":"DSOS ROA","o":5,"x":-0.95,"y":0.77},{"s":"DSOS ROA","o":6,"x":-0.72,"y":1.0},{"s":"DSOS ROA","o":7,"x":-0.44,"y":1.27},{"s":"DSOS ROA","o":8,"x":-0.17,"y":1.47},{"s":"DSOS ROA","o":9,"x":-0.03,"y":1.56},{"s":"DSOS ROA","o":10,"x":0.25,"y":1.62},{"s":"DSOS ROA","o":11,"x":0.43,"y":1.6},{"s":"DSOS ROA","o":12,"x":0.66,"y":1.53},{"s":"DSOS ROA","o":13,"x":0.9,"y":1.29},{"s":"DSOS ROA","o":14,"x":1.08,"y":1.0},{"s":"DSOS ROA","o":15,"x":1.2,"y":0.65},{"s":"DSOS ROA","o":16,"x":1.26,"y":0.3},{"s":"DSOS ROA","o":17,"x":1.29,"y":0.01},{"s":"DSOS ROA","o":18,"x":1.26,"y":-0.22},{"s":"DSOS ROA","o":19,"x":1.2,"y":-0.45},{"s":"DSOS ROA","o":20,"x":1.1,"y":-0.57},{"s":"DSOS ROA","o":21,"x":0.9,"y":-0.86},{"s":"DSOS ROA","o":22,"x":0.62,"y":-1.15},{"s":"DSOS ROA","o":23,"x":0.3,"y":-1.42},{"s":"DSOS ROA","o":24,"x":-0.03,"y":-1.56},{"s":"DSOS ROA","o":25,"x":-0.17,"y":-1.59},{"s":"DSOS ROA","o":26,"x":-0.49,"y":-1.59},{"s":"DSOS ROA","o":27,"x":-0.77,"y":-1.5},{"s":"DSOS ROA","o":28,"x":-0.95,"y":-1.33},{"s":"DSOS ROA","o":29,"x":-1.14,"y":-0.92},{"s":"DSOS ROA","o":30,"x":-1.23,"y":-0.57},{"s":"DSOS ROA","o":31,"x":-1.28,"y":-0.16},{"s":"DSOS ROA","o":32,"x":-1.27,"y":0.01}
  ]},
  "mark":{"type":"line","strokeWidth":1.3,"clip":true},
  "encoding":{
   "x":{"field":"x","type":"quantitative","scale":{"domain":[-3,3],"nice":false,"zero":false},"axis":{"orient":"bottom","labelPadding":9,"values":[-3,-2,-1,0,1,2,3],"format":"d"}},
   "y":{"field":"y","type":"quantitative","scale":{"domain":[-3,3],"nice":false,"zero":false},"axis":{"orient":"left","labelPadding":8,"values":[-3,-2,-1,0,1,2,3],"format":"d"}},
   "order":{"field":"o","type":"quantitative"},
   "color":{"field":"s","type":"nominal","scale":{"domain":["SOS ROA","SDSOS ROA","DSOS ROA","TRUE ROA"],"range":["#ff0000","#0000ff","#00ff00","#000000"]}}
  }
 }
]
}
